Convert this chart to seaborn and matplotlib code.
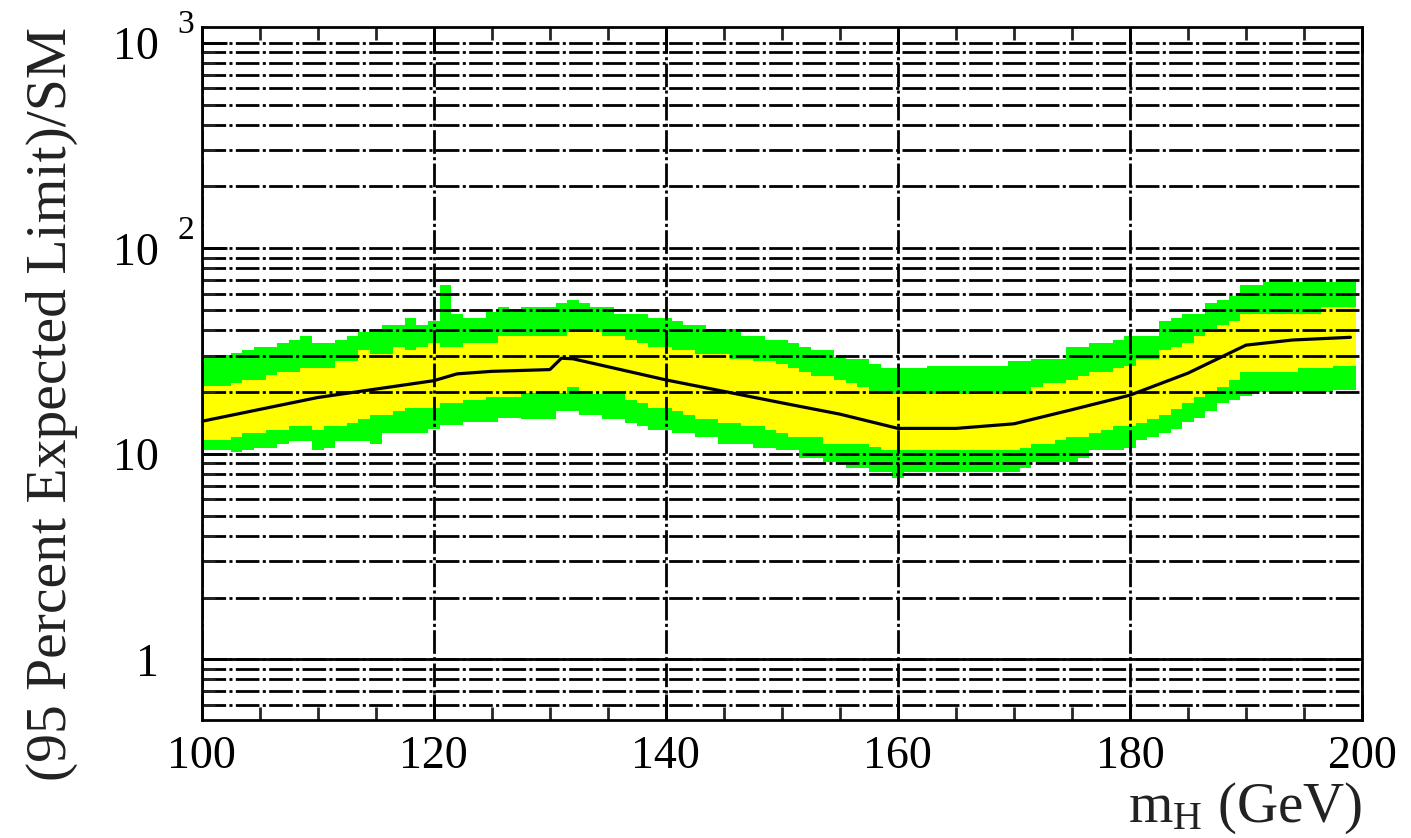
import numpy as np
import matplotlib
matplotlib.use("Agg")
import matplotlib.pyplot as plt
import matplotlib.ticker as mticker
import matplotlib.transforms as mtransforms
import seaborn as sns

# ---------------- data ----------------
# 1 GeV bins centred on integer masses 100 ... 199
mass_centers = list(range(100, 200))

green_hi = [30.3, 30.3, 30.3, 31.0, 32.0, 33.2, 33.2, 34.5, 35.8, 37.4,
            34.5, 34.5, 35.8, 37.4, 39.2, 39.2, 42.4, 42.4, 45.8, 42.4,
            44.3, 66.0, 47.9, 45.8, 45.8, 49.2, 51.8, 49.2, 52.0, 52.0,
            52.0, 54.3, 56.1, 54.3, 52.0, 52.0, 47.9, 47.9, 47.9, 45.8,
            45.8, 44.3, 42.4, 42.4, 40.6, 40.6, 40.6, 37.4, 37.4, 35.8,
            35.8, 34.5, 33.2, 32.0, 32.0, 29.7, 29.1, 29.1, 27.3, 26.2,
            26.2, 26.2, 26.2, 26.9, 26.9, 26.9, 26.9, 26.9, 26.9, 26.9,
            28.3, 28.3, 29.1, 29.1, 29.1, 33.2, 33.2, 34.5, 34.5, 35.8,
            37.4, 37.4, 37.4, 44.3, 45.8, 47.9, 47.9, 54.0, 56.1, 58.6,
            66.3, 66.3, 68.9, 68.9, 68.9, 68.9, 68.9, 68.9, 68.9, 68.9]

yellow_hi = [21.5, 21.5, 21.5, 22.0, 23.0, 23.0, 24.1, 25.1, 25.1, 26.2,
             26.2, 26.2, 28.3, 28.3, 32.0, 30.6, 30.6, 33.1, 32.0, 33.1,
             34.5, 33.2, 33.2, 34.5, 34.5, 34.5, 37.4, 37.4, 37.5, 37.5,
             37.5, 37.5, 39.1, 39.1, 39.1, 37.5, 37.5, 35.8, 34.5, 33.2,
             33.2, 32.0, 32.0, 30.6, 30.6, 30.6, 29.1, 29.1, 28.3, 28.3,
             27.3, 26.3, 25.1, 24.0, 24.0, 23.0, 22.0, 21.2, 19.6, 19.6,
             19.6, 19.6, 19.6, 19.6, 19.6, 19.6, 19.6, 19.6, 19.6, 19.6,
             19.6, 19.6, 21.2, 22.0, 22.0, 23.0, 24.0, 25.1, 25.1, 26.3,
             26.9, 29.1, 29.1, 32.0, 33.2, 34.5, 37.4, 39.1, 42.4, 44.3,
             47.9, 47.9, 47.9, 47.9, 47.9, 47.9, 47.9, 51.7, 51.7, 51.7]

yellow_lo = [11.7, 11.7, 11.7, 12.1, 12.7, 12.7, 13.1, 13.1, 13.7, 13.7,
             13.1, 13.7, 13.7, 14.2, 14.8, 15.5, 15.5, 16.1, 16.8, 16.8,
             16.8, 17.6, 17.6, 18.2, 18.2, 19.0, 19.0, 19.0, 19.7, 19.7,
             19.7, 19.7, 21.2, 19.6, 19.6, 19.6, 19.5, 18.3, 17.6, 16.8,
             16.8, 16.1, 15.5, 14.8, 14.8, 14.2, 14.2, 13.7, 13.7, 13.1,
             12.7, 12.1, 12.1, 12.1, 11.2, 11.2, 11.2, 11.2, 10.8, 10.4,
             10.4, 10.4, 10.4, 10.4, 10.4, 10.4, 10.4, 10.4, 10.4, 10.4,
             10.4, 10.7, 11.2, 11.2, 11.7, 12.1, 12.1, 12.7, 13.1, 13.7,
             13.7, 14.2, 14.8, 15.5, 16.5, 17.6, 19.0, 20.0, 21.2, 23.0,
             25.1, 25.1, 25.1, 25.1, 25.1, 26.3, 26.3, 26.3, 26.9, 26.9]

green_lo = [10.4, 10.4, 10.4, 10.2, 10.4, 10.7, 10.7, 11.2, 11.5, 11.5,
            10.4, 10.7, 11.5, 11.5, 11.5, 11.2, 12.7, 12.7, 12.7, 12.7,
            13.2, 13.8, 13.8, 14.3, 14.3, 14.3, 14.9, 14.9, 14.8, 14.8,
            14.8, 16.1, 16.1, 15.5, 15.5, 14.8, 14.8, 14.2, 13.7, 13.1,
            13.1, 12.7, 12.7, 12.1, 12.1, 11.2, 11.2, 11.2, 10.7, 10.7,
            10.4, 10.4, 9.5, 9.5, 9.16, 9.16, 8.5, 8.5, 8.19, 8.19,
            7.6, 8.19, 8.19, 8.19, 8.19, 8.19, 8.19, 8.19, 8.19, 8.19,
            8.19, 8.5, 9.16, 9.16, 9.16, 9.16, 9.5, 10.4, 10.4, 10.4,
            10.7, 11.7, 12.1, 12.7, 13.2, 14.3, 14.9, 16.1, 17.6, 18.2,
            19.1, 20.0, 20.0, 20.0, 20.0, 20.0, 20.0, 20.0, 20.4, 20.4]

line_mass = [100, 110, 120, 122, 125, 130, 131, 132, 140, 150,
             155, 160, 165, 170, 175, 180, 185, 190, 194, 199]
line_limit = [14.4, 18.8, 22.7, 24.5, 25.2, 25.7, 29.2, 29.0, 22.9, 17.7,
              15.6, 13.3, 13.3, 14.0, 16.4, 19.3, 24.7, 33.8, 35.8, 36.9]

x_ticks = [100, 120, 140, 160, 180, 200]
x_tick_labels = ["100", "120", "140", "160", "180", "200"]
y_tick_values = [1, 10, 100, 1000]
y_tick_labels = ["1", "10", "10", "10"]
y_tick_exponent_values = [100, 1000]
y_tick_exponents = ["2", "3"]
reference_level = 1.0
x_label = r"m$_{\mathrm{H}}$ (GeV)"
y_label = "(95 Percent Expected Limit)/SM"

# ---------------- style ----------------
sns.set_theme(style="white")
plt.rcParams["font.family"] = ["Liberation Serif", "DejaVu Serif"]
plt.rcParams["mathtext.fontset"] = "custom"
plt.rcParams["mathtext.rm"] = "Liberation Serif"
plt.rcParams["mathtext.it"] = "Liberation Serif:italic"
plt.rcParams["mathtext.bf"] = "Liberation Serif:bold"

fig = plt.figure(figsize=(14.11, 8.38), dpi=100)
ax = fig.add_axes([0.143, 0.1408, 0.8223, 0.8273])

half = 0.5
edges = np.append(np.array(mass_centers, dtype=float) - half, mass_centers[-1] + half)


def stepped(v):
    return np.append(np.asarray(v, dtype=float), v[-1])


ax.fill_between(edges, stepped(green_lo), stepped(green_hi), step="post",
                color="#00ff00", linewidth=0, zorder=1)
ax.fill_between(edges, stepped(yellow_lo), stepped(yellow_hi), step="post",
                color="#ffff00", linewidth=0, zorder=1.1)

sns.lineplot(x=line_mass, y=line_limit, ax=ax, color="black", linewidth=2.3,
             zorder=3, legend=False)

ax.set_yscale("log")
ax.set_xlim(100, 200)
ax.set_ylim(0.507, 1197)

# grid (dash-dot, above the bands)
dashdot = (0, (8.5, 1.2, 1.1, 1.2))
ax.set_axisbelow(False)
ax.grid(True, axis="y", which="both", color="black", linewidth=2.0, linestyle=dashdot)
ax.grid(True, axis="x", which="major", color="black", linewidth=2.0, linestyle=dashdot)
ax.axhline(reference_level, color="black", linewidth=2.0, zorder=3)

# ticks
ax.xaxis.set_major_locator(mticker.FixedLocator(x_ticks))
ax.xaxis.set_major_formatter(mticker.FixedFormatter(x_tick_labels))
ax.xaxis.set_minor_locator(mticker.MultipleLocator(5))
ax.yaxis.set_major_locator(mticker.FixedLocator(y_tick_values))
ax.yaxis.set_major_formatter(mticker.FixedFormatter(y_tick_labels))
ax.yaxis.set_minor_locator(mticker.LogLocator(base=10, subs=np.arange(2, 10)))
ax.yaxis.set_minor_formatter(mticker.NullFormatter())

ax.tick_params(axis="x", which="major", direction="in", length=19, width=2,
               top=True, bottom=True, labelsize=33, pad=11, colors="black")
ax.tick_params(axis="x", which="minor", direction="in", length=9.5, width=2,
               top=True, bottom=True)
ax.tick_params(axis="y", which="major", direction="in", length=18, width=2,
               left=True, right=False, labelsize=33, pad=31, colors="black")
ax.tick_params(axis="y", which="minor", direction="in", length=9.5, width=2,
               left=True, right=False)

for sp in ax.spines.values():
    sp.set_linewidth(2.0)
    sp.set_color("black")
    sp.set_zorder(4)

# ROOT-style exponents next to the "10" labels
trans = mtransforms.blended_transform_factory(ax.transAxes, ax.transData)
sup_trans = mtransforms.offset_copy(trans, fig=fig, x=0, y=18, units="dots")
for val, ex in zip(y_tick_exponent_values, y_tick_exponents):
    ax.text(-0.0135, val, ex, transform=sup_trans, ha="center", va="center",
            fontsize=24, color="black", clip_on=False)

ax.set_ylabel(y_label, fontsize=41.5, loc="top", color="#222222",
              family=["Liberation Serif", "DejaVu Serif"])
ax.yaxis.set_label_coords(-0.107, 1.0)
ax.set_xlabel(x_label, fontsize=41, loc="right", color="#222222",
              family=["Liberation Serif", "DejaVu Serif"])
ax.xaxis.set_label_coords(1.0, -0.087)

fig.savefig("out.png", dpi=100)
